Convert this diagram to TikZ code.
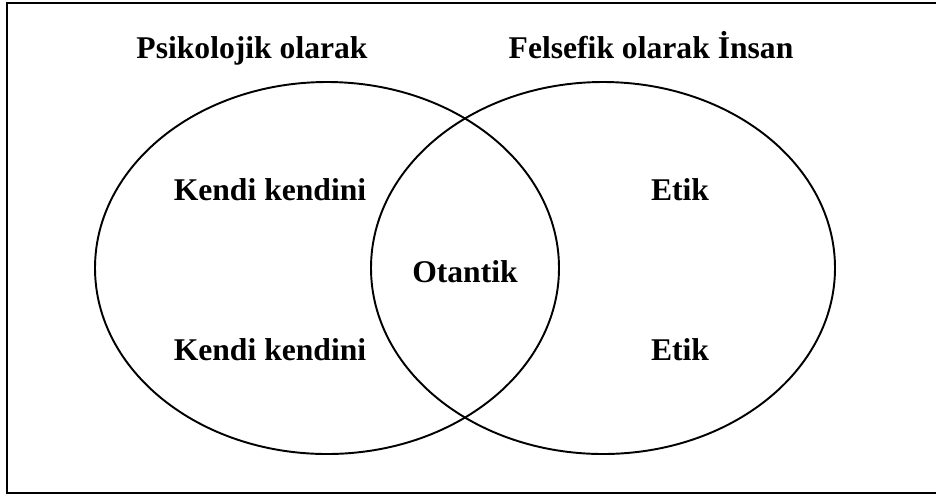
\documentclass[tikz,border=0pt]{standalone}
\usepackage{fontspec}
\setmainfont{Liberation Serif}
\begin{document}
\begin{tikzpicture}[x=0.02cm,y=-0.02cm,
  lbl/.style={font=\fontsize{18}{21}\selectfont\bfseries, anchor=base, inner sep=0pt}]
\useasboundingbox (0,0) rectangle (936,495);
\clip (0,0) rectangle (936,495);
\draw[line width=1.4pt] (7,3) rectangle (950,493);

\draw[line width=1.1pt] (327,268) ellipse (232 and 186);
\draw[line width=1.1pt] (603,268) ellipse (232 and 186);

\node[lbl] (psiko) at (252,58) {Psikolojik olarak};
\node[lbl] (felse) at (651,58) {Felsefik olarak İnsan};

\node[lbl] (kendiA) at (270,200) {Kendi kendini};
\node[lbl] (kendiB) at (270,360) {Kendi kendini};
\node[lbl] (otantik) at (465,282) {Otantik};
\node[lbl] (etikA) at (680,200) {Etik};
\node[lbl] (etikB) at (680,360) {Etik};
\end{tikzpicture}
\end{document}
